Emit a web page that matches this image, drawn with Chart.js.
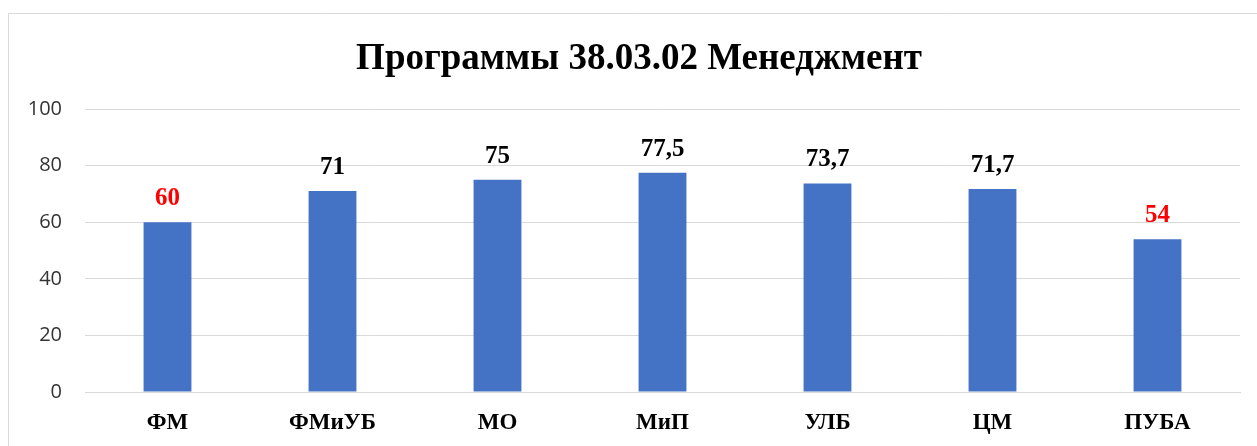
<!DOCTYPE html>
<html>
<head>
<meta charset="utf-8">
<script src="https://cdn.jsdelivr.net/npm/chart.js@4/dist/chart.umd.min.js"></script>
<style>
  html, body { margin: 0; padding: 0; background: #fff; }
  #wrap { position: relative; width: 1257px; height: 446px; }
</style>
</head>
<body>
<div id="wrap"><canvas id="chart"></canvas></div>
<script>
  'use strict';
  const categories = ['ФМ', 'ФМиУБ', 'МО', 'МиП', 'УЛБ', 'ЦМ', 'ПУБА'];
  const scores = [60, 71, 75, 77.5, 73.7, 71.7, 54];
  const yTicks = [0, 20, 40, 60, 80, 100];
  const chartTitle = 'Программы 38.03.02 Менеджмент';
  const lowScore = 65; // below this the label is shown in red

  const SERIF = '"Liberation Serif", "Times New Roman", serif';

  // frame round the chart (clipped at right/bottom like the original) + title
  const framePlugin = {
    id: 'frame',
    beforeDraw(chart) {
      const { ctx, width, height } = chart;
      ctx.save();
      ctx.fillStyle = '#fff';
      ctx.fillRect(0, 0, width, height);
      ctx.strokeStyle = '#d9d9d9';
      ctx.lineWidth = 1;
      ctx.beginPath();
      ctx.moveTo(8.5, height);
      ctx.lineTo(8.5, 13.5);
      ctx.lineTo(width, 13.5);
      ctx.stroke();
      ctx.fillStyle = '#000';
      ctx.font = 'bold 37px ' + SERIF;
      ctx.textAlign = 'center';
      ctx.textBaseline = 'alphabetic';
      ctx.fillText(chartTitle, 639, 69);
      ctx.restore();
    },
  };

  const valueLabels = {
    id: 'valueLabels',
    afterDatasetsDraw(chart) {
      const { ctx } = chart;
      const meta = chart.getDatasetMeta(0);
      ctx.save();
      ctx.font = 'bold 25px ' + SERIF;
      ctx.textAlign = 'center';
      ctx.textBaseline = 'alphabetic';
      meta.data.forEach((bar, i) => {
        const v = scores[i];
        ctx.fillStyle = v < lowScore ? '#ff0000' : '#000';
        ctx.fillText(String(v).replace('.', ','), bar.x, bar.y - 17);
      });
      ctx.restore();
    },
  };

  new Chart(document.getElementById('chart'), {
    type: 'bar',
    data: {
      labels: categories,
      datasets: [{ data: scores, backgroundColor: '#4472c4', borderWidth: 0, barPercentage: 0.58, categoryPercentage: 0.5 }],
    },
    options: {
      responsive: true,
      maintainAspectRatio: false,
      animation: false,
      layout: { padding: { top: 109, left: 0, right: 17, bottom: 0 } },
      plugins: {
        legend: { display: false },
        tooltip: { enabled: false },
        title: { display: false },
      },
      scales: {
        x: {
          grid: { display: false, drawTicks: false },
          border: { display: true, color: '#d9d9d9', width: 1 },
          ticks: { color: '#000', padding: 17, font: { family: SERIF, size: 23, weight: 'bold' } },
          afterFit(scale) { scale.height = 446 - 392; },
        },
        y: {
          min: 0,
          max: 100,
          afterBuildTicks(scale) { scale.ticks = yTicks.map((v) => ({ value: v })); },
          grid: { color: '#d9d9d9', lineWidth: 1, drawTicks: false },
          border: { display: false },
          ticks: { color: '#333', padding: 23, font: { family: '"Open Sans", sans-serif', size: 20 } },
          afterFit(scale) { scale.width = 85; },
        },
      },
    },
    plugins: [framePlugin, valueLabels],
  });
</script>
</body>
</html>
